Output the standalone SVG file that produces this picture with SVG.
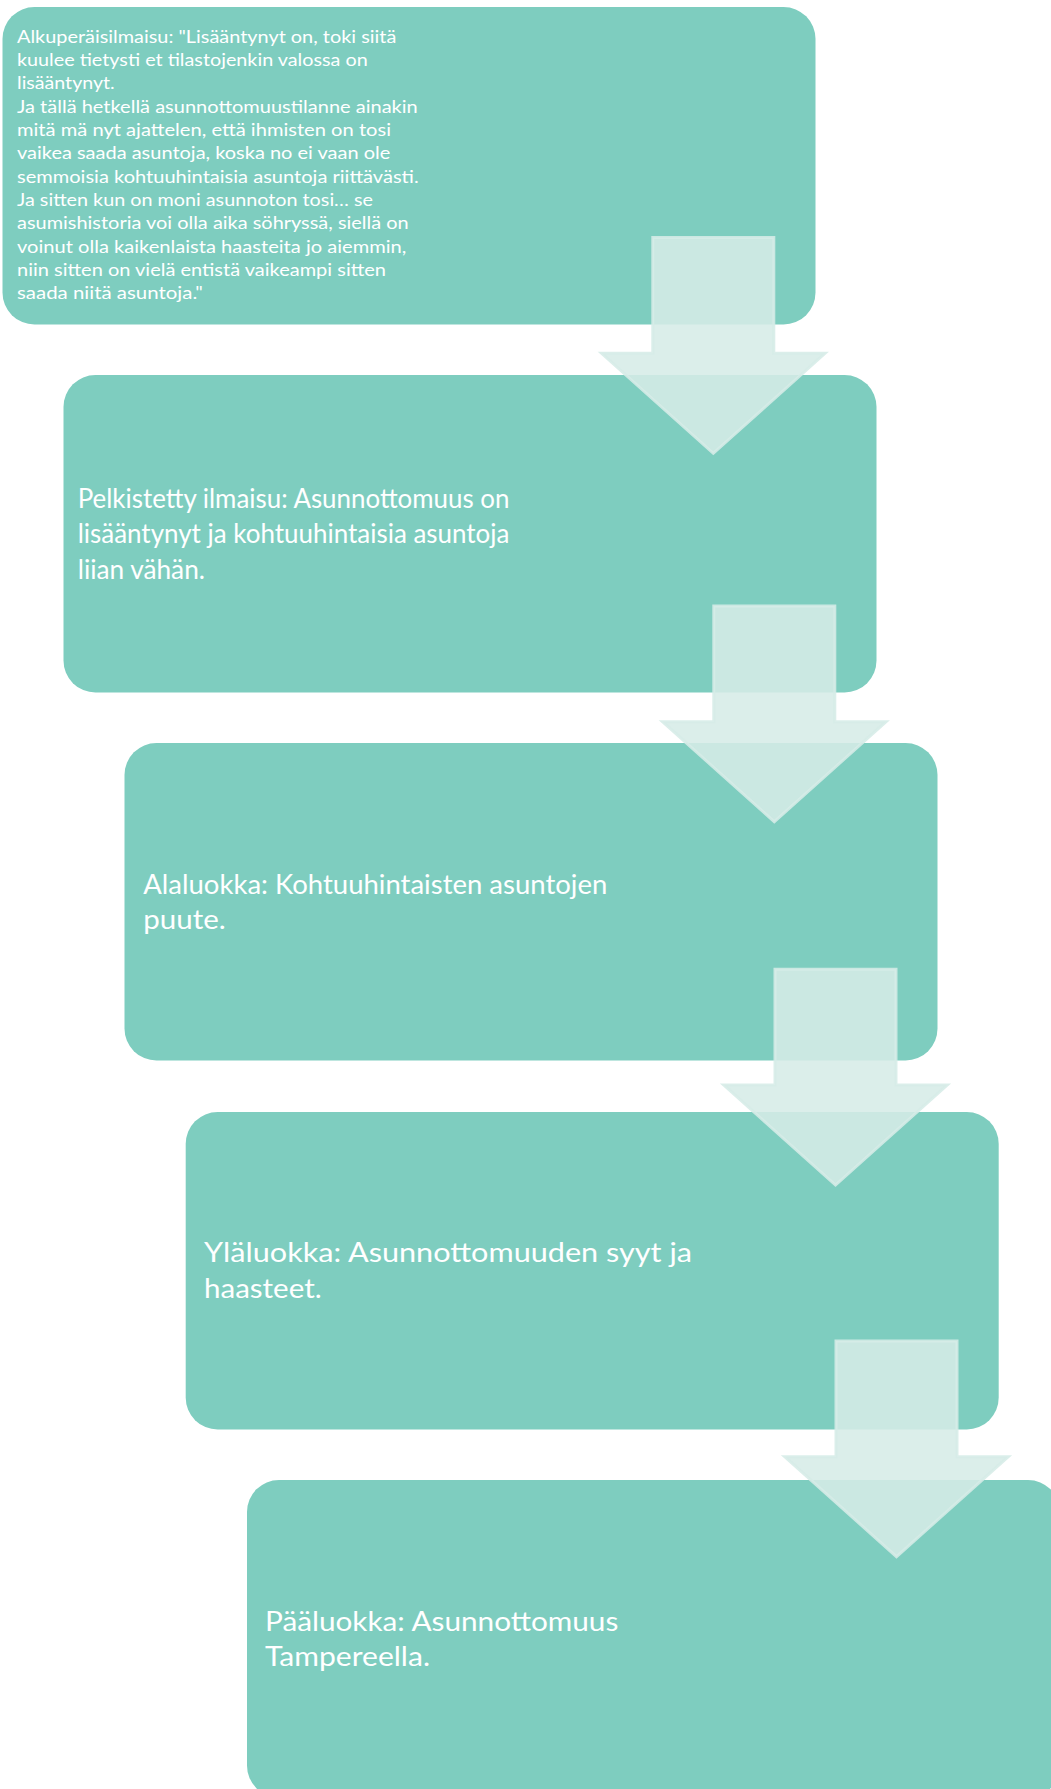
<svg xmlns="http://www.w3.org/2000/svg" width="1051" height="1789" viewBox="0 0 1051 1789">
  <style>
    .box { fill: #7ECDBF; }
    .arrow { fill: #D6ECE7; fill-opacity: 0.88; stroke: #D6ECE7; stroke-opacity: 0.88; stroke-width: 3; stroke-linejoin: miter; }
    .t { fill: #FFFFFF; font-family: Lato, "Open Sans", "Liberation Sans", sans-serif; }
    .small { font-size: 17.5px; }
    .big { font-size: 26.4px; }
  </style>
  <defs>
    <path id="downArrow" d="M -60.5 -115.7 L 60.5 -115.7 L 60.5 0 L 111.7 0 L 0 100 L -111.7 0 L -60.5 0 Z"/>
  </defs>
  <rect width="1051" height="1789" fill="#FFFFFF"/>

  <g id="node1">
    <rect class="box" x="2.5" y="7" width="813" height="317.5" rx="32" ry="32"/>
    <text class="t small" lengthAdjust="spacingAndGlyphs">
      <tspan x="17" y="42.7" textLength="379.3" lengthAdjust="spacingAndGlyphs">Alkuperäisilmaisu: "Lisääntynyt on, toki siitä</tspan>
      <tspan x="17" y="66" textLength="350.7" lengthAdjust="spacingAndGlyphs">kuulee tietysti et tilastojenkin valossa on</tspan>
      <tspan x="17" y="89.4" textLength="97.7" lengthAdjust="spacingAndGlyphs">lisääntynyt.</tspan>
      <tspan x="17" y="112.7" textLength="400.7" lengthAdjust="spacingAndGlyphs">Ja tällä hetkellä asunnottomuustilanne ainakin</tspan>
      <tspan x="17" y="136" textLength="374" lengthAdjust="spacingAndGlyphs">mitä mä nyt ajattelen, että ihmisten on tosi</tspan>
      <tspan x="17" y="159.4" textLength="373.3" lengthAdjust="spacingAndGlyphs">vaikea saada asuntoja, koska no ei vaan ole</tspan>
      <tspan x="17" y="182.7" textLength="401.7" lengthAdjust="spacingAndGlyphs">semmoisia kohtuuhintaisia asuntoja riittävästi.</tspan>
      <tspan x="17" y="206" textLength="356" lengthAdjust="spacingAndGlyphs">Ja sitten kun on moni asunnoton tosi… se</tspan>
      <tspan x="17" y="229.3" textLength="391.7" lengthAdjust="spacingAndGlyphs">asumishistoria voi olla aika söhryssä, siellä on</tspan>
      <tspan x="17" y="252.7" textLength="389.3" lengthAdjust="spacingAndGlyphs">voinut olla kaikenlaista haasteita jo aiemmin,</tspan>
      <tspan x="17" y="276" textLength="369" lengthAdjust="spacingAndGlyphs">niin sitten on vielä entistä vaikeampi sitten</tspan>
      <tspan x="17" y="299.3" textLength="185.7" lengthAdjust="spacingAndGlyphs">saada niitä asuntoja."</tspan>
    </text>
  </g>

  <g id="node2">
    <rect class="box" x="63.5" y="375" width="813" height="317.5" rx="32" ry="32"/>
    <text class="t big">
      <tspan x="77.7" y="507.5" textLength="431.7" lengthAdjust="spacingAndGlyphs">Pelkistetty ilmaisu: Asunnottomuus on</tspan>
      <tspan x="77.7" y="543" textLength="431.7" lengthAdjust="spacingAndGlyphs">lisääntynyt ja kohtuuhintaisia asuntoja</tspan>
      <tspan x="77.7" y="578.5" textLength="127.3" lengthAdjust="spacingAndGlyphs">liian vähän.</tspan>
    </text>
  </g>

  <g id="node3">
    <rect class="box" x="124.5" y="743" width="813" height="317.5" rx="32" ry="32"/>
    <text class="t big">
      <tspan x="143.3" y="894" textLength="464" lengthAdjust="spacingAndGlyphs">Alaluokka: Kohtuuhintaisten asuntojen</tspan>
      <tspan x="143.3" y="929.4" textLength="82.4" lengthAdjust="spacingAndGlyphs">puute.</tspan>
    </text>
  </g>

  <g id="node4">
    <rect class="box" x="185.7" y="1112" width="813" height="317.5" rx="32" ry="32"/>
    <text class="t big">
      <tspan x="204" y="1262.3" textLength="488" lengthAdjust="spacingAndGlyphs">Yläluokka: Asunnottomuuden syyt ja</tspan>
      <tspan x="204" y="1297.7" textLength="117.7" lengthAdjust="spacingAndGlyphs">haasteet.</tspan>
    </text>
  </g>

  <g id="node5">
    <rect class="box" x="247" y="1480" width="813" height="317.5" rx="32" ry="32"/>
    <text class="t big">
      <tspan x="265" y="1630.7" textLength="353.3" lengthAdjust="spacingAndGlyphs">Pääluokka: Asunnottomuus</tspan>
      <tspan x="265" y="1665.8" textLength="165" lengthAdjust="spacingAndGlyphs">Tampereella.</tspan>
    </text>
  </g>

  <g id="connectors">
    <use href="#downArrow" class="arrow" transform="translate(713.3 353.3)"/>
    <use href="#downArrow" class="arrow" transform="translate(774.3 721.7)"/>
    <use href="#downArrow" class="arrow" transform="translate(835.5 1085)"/>
    <use href="#downArrow" class="arrow" transform="translate(896.5 1456.7)"/>
  </g>
</svg>
